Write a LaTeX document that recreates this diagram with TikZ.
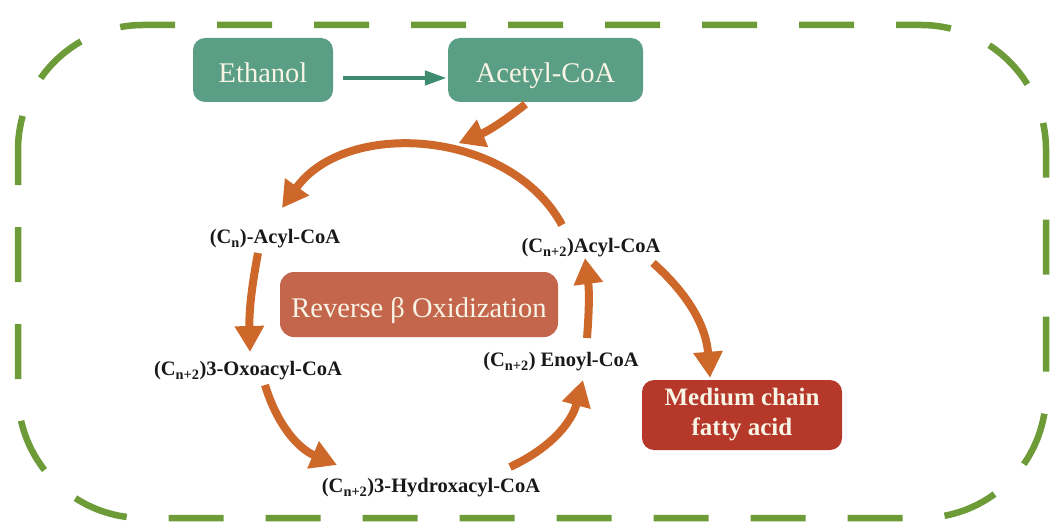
\documentclass[tikz,border=0pt]{standalone}
\usepackage{fontspec}
\setmainfont{Liberation Serif}
\usetikzlibrary{arrows.meta,calc}
\definecolor{bordergreen}{RGB}{108,155,56}
\definecolor{tealbox}{RGB}{90,158,133}
\definecolor{tealarrow}{RGB}{62,140,112}
\definecolor{orangearrow}{RGB}{205,104,42}
\definecolor{rustbox}{RGB}{196,102,76}
\definecolor{redbox}{RGB}{181,56,42}
\definecolor{boxtext}{RGB}{248,244,230}
\tikzset{
  tealnode/.style={fill=tealbox, rounded corners=12pt, text=boxtext, minimum height=64pt,
    font=\fontsize{28.5}{30}\selectfont, inner sep=0pt, text height=26pt, text depth=0pt},
  lbl/.style={font=\fontsize{20.5}{22}\selectfont\bfseries, text=black!90, inner sep=2pt},
  cyc/.style={draw=orangearrow, line width=8pt, -{Triangle[width=28pt,length=26pt]}},
  gar/.style={draw=tealarrow, line width=4.5pt, -{Triangle[width=14pt,length=22pt]}},
}
\begin{document}
\begin{tikzpicture}[x=1pt,y=1pt]
\useasboundingbox (0,0) rectangle (1051,-524);
% dashed border
\draw[bordergreen, line width=6.5pt, rounded corners=125pt, dash pattern=on 55pt off 42pt, dash phase=20pt]
  (18,-25) rectangle (1046,-518);
% boxes
\node[tealnode, minimum width=140pt] (eth) at (263,-70) {Ethanol};
\node[tealnode, minimum width=195pt] (acet) at (545.5,-70) {Acetyl-CoA};
\node[fill=rustbox, rounded corners=14pt, text=boxtext, minimum width=278pt, minimum height=65pt,
  font=\fontsize{28.5}{30}\selectfont, inner sep=0pt, text height=25pt, text depth=0pt] (rev) at (419,-304.5) {Reverse β Oxidization};
\node[fill=redbox, rounded corners=12pt, text=boxtext, minimum width=200pt, minimum height=70pt,
  font=\fontsize{25}{30}\selectfont\bfseries, align=center, inner sep=0pt] (med) at (742,-415)
  {Medium chain\\fatty acid};
% labels
\node[lbl] (cn) at (275,-239) {(C\textsubscript{n})-Acyl-CoA};
\node[lbl] (acyl2) at (591,-248) {(C\textsubscript{n+2})Acyl-CoA};
\node[lbl] (oxo) at (248,-371) {(C\textsubscript{n+2})3-Oxoacyl-CoA};
\node[lbl] (enoyl) at (561,-362) {(C\textsubscript{n+2}) Enoyl-CoA};
\node[lbl] (hyd) at (431,-488) {(C\textsubscript{n+2})3-Hydroxacyl-CoA};
% teal arrow
\draw[gar] ([xshift=10pt,yshift=-8pt]eth.east) -- ([xshift=-1pt,yshift=-8pt]acet.west);
% orange arrows
\draw[cyc] ($(acet.south)+(-20,-2)$) to[bend left=8] ($(acet.south)+(-87,-41)$);
\draw[cyc] ($(acyl2)+(-29,23)$) to[bend right=58] ($(cn)+(7,31)$);
\draw[cyc] ($(cn)+(-17,-14)$) to[bend right=6] ($(oxo)+(2,19)$);
\draw[cyc] ($(oxo)+(17,-14)$) to[bend right=25] ($(hyd)+(-94,23)$);
\draw[cyc] ($(hyd)+(79,21)$) to[bend right=25] ($(enoyl)+(22,-18)$);
\draw[cyc] ($(enoyl)+(26,24)$) to[bend right=6] ($(acyl2)+(-6,-10)$);
\draw[cyc] ($(acyl2)+(62,-15)$) to[bend left=22] ($(med.north)+(-32,2)$);
\end{tikzpicture}
\end{document}
